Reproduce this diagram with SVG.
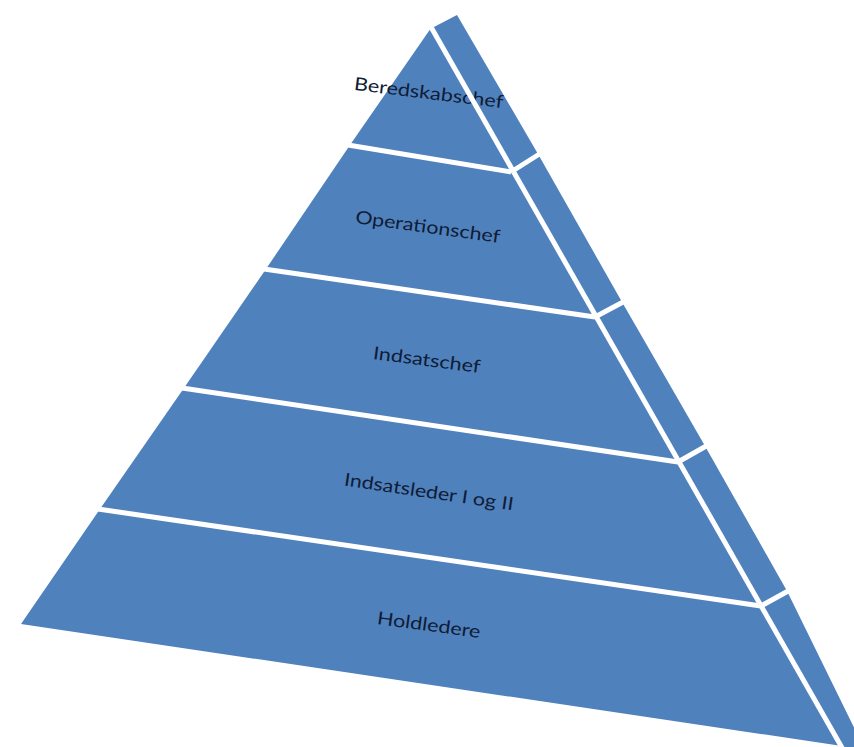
<svg xmlns="http://www.w3.org/2000/svg" width="854" height="747" viewBox="0 0 854 747">
<style>
.face{fill:#4f81bd;stroke:none}
.sep{stroke:#ffffff;stroke-width:5;stroke-linecap:butt;fill:none}
.lbl{font-family:Lato,"Open Sans","Liberation Sans",sans-serif;font-size:18px;fill:#0f1c36;text-anchor:middle}
</style>
<rect width="854" height="747" fill="#ffffff"/>
<g id="level1">
<polygon class="face" points="431,28 350,145 511,172"/>
<polygon class="face" points="432,28 457,15 538,154 511,172"/>
<text class="lbl" x="428" y="99" transform="rotate(7 428 99)" textLength="150" lengthAdjust="spacingAndGlyphs">Beredskabschef</text>
</g>
<g id="level2">
<polygon class="face" points="350,145 266,269 595,317 511,172"/>
<polygon class="face" points="511,172 538,154 622,302 595,317"/>
<text class="lbl" x="427" y="233" transform="rotate(7.8 427 233)" textLength="146" lengthAdjust="spacingAndGlyphs">Operationschef</text>
</g>
<g id="level3">
<polygon class="face" points="266,269 184,388 678,462 595,317"/>
<polygon class="face" points="595,317 622,302 705,446 678,462"/>
<text class="lbl" x="426" y="366" transform="rotate(7.5 426 366)" textLength="108" lengthAdjust="spacingAndGlyphs">Indsatschef</text>
</g>
<g id="level4">
<polygon class="face" points="184,388 100,509 761,606 678,462"/>
<polygon class="face" points="678,462 705,446 787,591 761,606"/>
<text class="lbl" x="428" y="498" transform="rotate(8.4 428 498)" textLength="171" lengthAdjust="spacingAndGlyphs">Indsatsleder I og II</text>
</g>
<g id="level5">
<polygon class="face" points="100,509 21,624 842,746 849,760 870,760 787,591 761,606"/>
<text class="lbl" x="428" y="631" transform="rotate(7.7 428 631)" textLength="104" lengthAdjust="spacingAndGlyphs">Holdledere</text>
</g>
<g id="connectors">
<line class="sep" x1="431" y1="27" x2="849" y2="760"/>
<line class="sep" x1="348" y1="145" x2="511" y2="172"/>
<line class="sep" x1="511" y1="172" x2="541" y2="153"/>
<line class="sep" x1="264" y1="269" x2="595" y2="317"/>
<line class="sep" x1="595" y1="317" x2="625" y2="301"/>
<line class="sep" x1="182" y1="388" x2="678" y2="462"/>
<line class="sep" x1="678" y1="462" x2="708" y2="445"/>
<line class="sep" x1="98" y1="509" x2="761" y2="606"/>
<line class="sep" x1="761" y1="606" x2="790" y2="590"/>
</g>
</svg>
